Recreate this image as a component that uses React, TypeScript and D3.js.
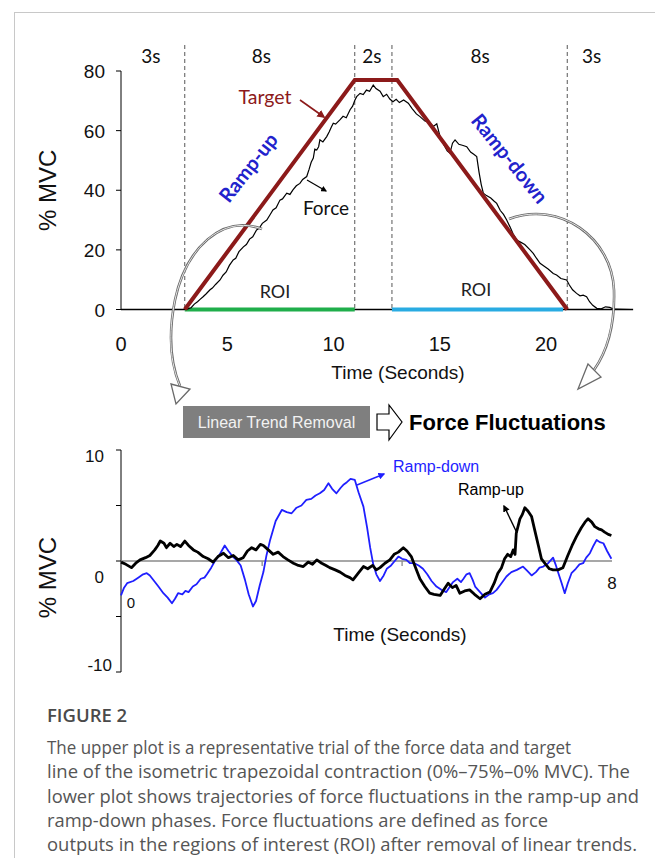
import React from "react";
import * as d3 from "d3";

// ---------- DATA ----------
const upperYTicks = [0, 20, 40, 60, 80];
const upperXTicks = [0, 5, 10, 15, 20];
const phaseBounds = [3, 11, 12.75, 21];
const phaseLabels = [
  { t: 1.4, label: "3s" },
  { t: 6.6, label: "8s" },
  { t: 11.8, label: "2s" },
  { t: 16.9, label: "8s" },
  { t: 22.15, label: "3s" },
];
const targetLine: [number, number][] = [
  [3, 0],
  [11, 77],
  [13, 77],
  [21, 0],
];
const roiUp: [number, number] = [3, 11];
const roiDown: [number, number] = [12.75, 20.8];
const forceTrace: [number, number][] = [
  [0, 0], [3.0, 0], [3.15, 0.2], [3.3, 0.6], [3.45, 1.8], [3.6, 2.6], [3.72, 3.4], [3.85, 4.2],
  [4.0, 5.2], [4.19, 6.6], [4.3, 7.2], [4.45, 8.4], [4.66, 9.9], [4.8, 11.5], [4.95, 12.6],
  [5.1, 14.8], [5.28, 16.6], [5.4, 17.2], [5.55, 19.4], [5.76, 21], [5.9, 21.8], [6.05, 23.6],
  [6.2, 24.4], [6.38, 26.7], [6.5, 27.2], [6.65, 28.9], [6.86, 30], [7.0, 31.6], [7.15, 33.4],
  [7.3, 34.1], [7.48, 36.7], [7.6, 37.1], [7.8, 39], [7.95, 38.6], [8.1, 40.2], [8.25, 41.5],
  [8.42, 42.3], [8.55, 43.6], [8.74, 44.6], [8.85, 47], [8.95, 49.4], [9.05, 50.8], [9.12, 53.8],
  [9.21, 53.5], [9.3, 54.6], [9.36, 56.9], [9.5, 56.2], [9.68, 58], [9.8, 59.6], [9.9, 61.2],
  [9.99, 62.5], [10.1, 62.2], [10.3, 63.6], [10.45, 64.8], [10.6, 64.3], [10.78, 67], [10.9, 68.2],
  [11.0, 70.1], [11.09, 71.4], [11.25, 72.5], [11.4, 72.1], [11.55, 73.6], [11.7, 73.2],
  [11.87, 75.3], [12.0, 74.1], [12.19, 73.2], [12.34, 71.4], [12.5, 72.2], [12.65, 70.6],
  [12.8, 69.7], [12.95, 70.5], [13.1, 69.4], [13.3, 70.3], [13.52, 69.2], [13.7, 67.4],
  [13.9, 65.6], [14.07, 64.7], [14.3, 63.2], [14.5, 62.8], [14.7, 61.4], [14.86, 62.3],
  [15.0, 58.4], [15.2, 55.2], [15.35, 53.2], [15.48, 52.4], [15.6, 55.8], [15.72, 56.9],
  [15.9, 55.4], [16.1, 55], [16.27, 54.6], [16.45, 52.8], [16.6, 52.1], [16.74, 51.3],
  [16.85, 46], [16.95, 42], [17.05, 39], [17.2, 38.2], [17.4, 37.4], [17.55, 36.4], [17.68, 35.6],
  [17.85, 33.2], [18.0, 31.9], [18.15, 30], [18.3, 27.8], [18.45, 25.4], [18.62, 23.3],
  [18.8, 22.6], [19.0, 21.8], [19.25, 20], [19.4, 18.8], [19.55, 17.2], [19.72, 15.5],
  [19.9, 14.6], [20.1, 13.6], [20.34, 12.1], [20.5, 11.6], [20.7, 10.4], [20.97, 9.9],
  [21.1, 8.2], [21.25, 6.6], [21.44, 5.4], [21.6, 4.6], [21.75, 4.8], [21.91, 4.3], [22.05, 2.6],
  [22.2, 1.4], [22.39, 0.4], [22.6, 0.2], [22.8, 0.9], [23.0, 0.7], [23.2, 0.1], [24, 0],
];

const lowerYTicks = [10, 5, 0, -5, -10];
const lowerYLabels = [10, 0, -10];
const lowerMinorX = [2.3, 4.58];
const rampUpFluct: [number, number][] = [
  [0, -0.1], [0.08, -0.3], [0.17, -0.6], [0.24, -0.2], [0.31, 0.1], [0.4, 0.3], [0.47, 0.5],
  [0.55, 1.0], [0.6, 1.4], [0.64, 1.8], [0.7, 1.6], [0.74, 1.2], [0.8, 1.6], [0.86, 1.3],
  [0.91, 1.5], [0.97, 1.3], [1.04, 1.8], [1.1, 1.4], [1.18, 1.0], [1.25, 0.8], [1.34, 0.4],
  [1.42, 0.2], [1.5, -0.1], [1.58, 0.4], [1.67, 0.7], [1.75, 0.3], [1.83, 0.5], [1.91, 0.1],
  [1.99, 0.3], [2.06, 0.9], [2.13, 1.2], [2.2, 1.0], [2.27, 1.5], [2.32, 1.4], [2.4, 1.0],
  [2.48, 0.6], [2.56, 0.8], [2.64, 0.4], [2.72, 0.1], [2.81, -0.2], [2.89, -0.4], [2.97, -0.5],
  [3.05, -0.1], [3.12, -0.3], [3.19, 0.1], [3.27, -0.2], [3.34, -0.4], [3.4, -0.6], [3.49, -0.8],
  [3.57, -1.0], [3.65, -1.3], [3.73, -1.5], [3.78, -1.7], [3.85, -1.2], [3.95, -0.5], [4.02, -0.7],
  [4.1, -0.4], [4.16, -0.8], [4.22, -0.6], [4.3, -0.2], [4.38, 0.1], [4.45, 0.6], [4.52, 0.8],
  [4.6, 1.2], [4.66, 0.9], [4.73, 0.4], [4.8, -0.6], [4.87, -1.6], [4.95, -2.3], [5.03, -2.9],
  [5.1, -3.0], [5.2, -3.1], [5.27, -2.5], [5.33, -2.0], [5.4, -2.4], [5.46, -2.2], [5.52, -2.9],
  [5.6, -2.7], [5.68, -2.6], [5.76, -3.0], [5.85, -3.4], [5.93, -3.0], [6.01, -2.8], [6.08, -2.0],
  [6.14, -1.1], [6.2, -0.6], [6.25, 0.2], [6.3, 0.6], [6.35, 0.4], [6.39, 1.0], [6.42, 0.6],
  [6.44, 2.5], [6.5, 3.8], [6.54, 4.2], [6.58, 4.8], [6.63, 4.5], [6.69, 4.0], [6.74, 2.8],
  [6.8, 1.4], [6.85, 0.2], [6.92, -0.3], [6.98, -0.7], [7.04, -0.8], [7.12, -0.8], [7.2, -0.6],
  [7.28, 0.5], [7.35, 1.4], [7.42, 2.2], [7.5, 3.0], [7.56, 3.5], [7.61, 3.8], [7.67, 3.5],
  [7.72, 3.1], [7.78, 2.9], [7.83, 2.8], [7.88, 2.6], [7.94, 2.4], [7.99, 2.3],
];
const rampDownFluct: [number, number][] = [
  [0, -3.1], [0.05, -2.4], [0.1, -2.0], [0.2, -1.8], [0.28, -1.5], [0.36, -1.2], [0.42, -1.1],
  [0.47, -1.3], [0.54, -1.8], [0.61, -2.3], [0.69, -2.9], [0.76, -3.3], [0.83, -3.8], [0.88, -3.4],
  [0.93, -2.9], [1.0, -3.0], [1.05, -2.7], [1.1, -2.8], [1.17, -2.3], [1.23, -2.1], [1.3, -1.6],
  [1.36, -1.5], [1.4, -1.2], [1.47, -0.6], [1.53, 0.0], [1.6, 0.5], [1.66, 1.1], [1.69, 1.4],
  [1.75, 0.9], [1.82, 0.4], [1.88, 0.1], [1.95, -0.4], [2.02, -1.7], [2.08, -3.0], [2.15, -4.1],
  [2.2, -3.6], [2.26, -2.2], [2.32, -1.0], [2.37, 0.5], [2.43, 1.9], [2.52, 3.6], [2.62, 4.6],
  [2.7, 4.4], [2.78, 4.3], [2.86, 4.8], [2.94, 5.0], [3.02, 5.5], [3.1, 5.6], [3.17, 5.9],
  [3.24, 6.1], [3.31, 6.4], [3.38, 7.0], [3.44, 6.5], [3.51, 6.1], [3.58, 6.6], [3.63, 6.9],
  [3.68, 7.1], [3.74, 7.4], [3.81, 7.3], [3.87, 6.2], [3.95, 4.9], [4.01, 3.0], [4.06, 1.2],
  [4.11, -0.3], [4.16, -1.2], [4.22, -1.8], [4.28, -1.3], [4.33, -0.7], [4.4, -0.4], [4.46, 0.0],
  [4.52, 0.4], [4.58, 0.2], [4.65, 0.1], [4.71, -0.2], [4.78, -0.2], [4.85, -0.4], [4.92, -0.7],
  [4.99, -1.2], [5.06, -1.8], [5.14, -2.3], [5.22, -2.6], [5.3, -2.8], [5.36, -2.3], [5.41, -1.9],
  [5.48, -1.6], [5.54, -1.9], [5.58, -1.6], [5.63, -1.2], [5.68, -1.1], [5.73, -1.7], [5.77, -2.3],
  [5.85, -2.8], [5.93, -3.3], [6.0, -3.0], [6.06, -2.9], [6.12, -2.6], [6.2, -2.0], [6.28, -1.4],
  [6.36, -1.0], [6.45, -0.8], [6.55, -0.5], [6.62, -0.9], [6.69, -1.3], [6.76, -1.0], [6.82, -0.6],
  [6.88, -0.5], [6.96, -0.2], [7.04, 0.3], [7.08, -0.3], [7.12, -1.0], [7.18, -2.0], [7.23, -2.9],
  [7.28, -2.0], [7.34, -1.1], [7.41, -0.7], [7.47, -0.3], [7.53, -0.2], [7.58, 0.3], [7.64, 0.7],
  [7.7, 1.4], [7.75, 1.9], [7.8, 1.7], [7.86, 1.6], [7.92, 0.9], [7.99, 0.2],
];

const captionTitle = "FIGURE 2";
const captionLines = [
  "The upper plot is a representative trial of the force data and target",
  "line of the isometric trapezoidal contraction (0%\u201375%\u20130% MVC). The",
  "lower plot shows trajectories of force fluctuations in the ramp-up and",
  "ramp-down phases. Force fluctuations are defined as force",
  "outputs in the regions of interest (ROI) after removal of linear trends.",
];
const captionWidths = [524, 583, 592, 501, 590];

// ---------- STYLE ----------
const ARIAL = "'Liberation Sans', Arial, sans-serif";
const CALIBRI = "Lato, 'Open Sans', sans-serif";
const CAPTION = "'Open Sans', Lato, sans-serif";
const MAROON = "#8c1a1a";
const RAMPBLUE = "#2222cc";
const LINEBLUE = "#1f1fff";

export default function App() {
  const xU = d3.scaleLinear().domain([0, 24]).range([121, 631]);
  const yU = d3.scaleLinear().domain([0, 80]).range([309.5, 71]);
  const xL = d3.scaleLinear().domain([0, 8]).range([121, 612]);
  const yL = d3.scaleLinear().domain([-10, 10]).range([672, 450]);

  const lineU = d3.line<[number, number]>().x((d) => xU(d[0])).y((d) => yU(d[1]));
  const lineL = d3.line<[number, number]>().x((d) => xL(d[0])).y((d) => yL(d[1]));

  const leftArc = "M 262 229 C 222 214, 186 248, 175 300 C 168 335, 170 362, 180 386";
  const rightArc = "M 509 219 C 560 200, 612 238, 614 290 C 615 322, 608 350, 594 370";

  return (
    <svg
      width={655}
      height={859}
      style={{ position: "absolute", left: 0, top: 0, background: "#fff" }}
      xmlns="http://www.w3.org/2000/svg"
    >
      <defs>
        <marker id="arrMaroon" viewBox="0 0 10 10" refX="8" refY="5" markerWidth="5" markerHeight="5" orient="auto">
          <path d="M0,0 L10,5 L0,10 z" fill={MAROON} />
        </marker>
        <marker id="arrBlack" viewBox="0 0 10 10" refX="8" refY="5" markerWidth="5" markerHeight="5" orient="auto">
          <path d="M0,0 L10,5 L0,10 z" fill="#000" />
        </marker>
        <marker id="arrBlue" viewBox="0 0 10 10" refX="8" refY="5" markerWidth="5" markerHeight="5" orient="auto">
          <path d="M0,0 L10,5 L0,10 z" fill={LINEBLUE} />
        </marker>
      </defs>

      {/* frame */}
      <line x1={14} y1={12.5} x2={655} y2={12.5} stroke="#c8c8c8" strokeWidth={1} />
      <line x1={14.5} y1={12} x2={14.5} y2={858} stroke="#c8c8c8" strokeWidth={1} />

      {/* ---------- UPPER PLOT ---------- */}
      {phaseBounds.map((t, i) => (
        <line key={i} x1={xU(t)} x2={xU(t)} y1={45} y2={310} stroke="#444" strokeWidth={0.9} strokeDasharray="4,3" />
      ))}
      {phaseLabels.map((p, i) => (
        <text key={i} x={xU(p.t)} y={63} fontFamily={CALIBRI} fontSize={19} textAnchor="middle" fill="#111">
          {p.label}
        </text>
      ))}

      {/* y axis */}
      <line x1={121} x2={121} y1={yU(80)} y2={yU(0)} stroke="#000" strokeWidth={1} />
      {upperYTicks.map((v) => (
        <g key={v}>
          <line x1={116} x2={121} y1={yU(v)} y2={yU(v)} stroke="#000" strokeWidth={1} />
          <text x={105} y={yU(v) + 7} fontFamily={ARIAL} fontSize={19} textAnchor="end" fill="#111">
            {v}
          </text>
        </g>
      ))}
      <text transform={`translate(56,${yU(40)}) rotate(-90)`} fontFamily={ARIAL} fontSize={24} textAnchor="middle" fill="#111">
        % MVC
      </text>

      {/* x axis */}
      <line x1={xU(0)} x2={xU(24.1)} y1={yU(0)} y2={yU(0)} stroke="#000" strokeWidth={1.6} />
      {upperXTicks.map((v) => (
        <text key={v} x={xU(v)} y={351} fontFamily={ARIAL} fontSize={20} textAnchor="middle" fill="#111">
          {v}
        </text>
      ))}
      <text x={398} y={379} fontFamily={ARIAL} fontSize={19} textAnchor="middle" fill="#111">
        Time (Seconds)
      </text>

      {/* ROI bars */}
      <line x1={xU(roiUp[0])} x2={xU(roiUp[1])} y1={yU(0)} y2={yU(0)} stroke="#1fae4b" strokeWidth={4} />
      <line x1={xU(roiDown[0])} x2={xU(roiDown[1])} y1={yU(0)} y2={yU(0)} stroke="#29abe2" strokeWidth={4} />
      <text x={275} y={298} fontFamily={CALIBRI} fontSize={18} textAnchor="middle" fill="#222">ROI</text>
      <text x={476} y={296} fontFamily={CALIBRI} fontSize={18} textAnchor="middle" fill="#222">ROI</text>

      {/* force */}
      <path d={lineU(forceTrace) || ""} fill="none" stroke="#000" strokeWidth={1.2} />
      {/* target */}
      <path d={lineU(targetLine) || ""} fill="none" stroke={MAROON} strokeWidth={4} strokeLinejoin="miter" />

      {/* labels upper */}
      <text x={265} y={104} fontFamily={CALIBRI} fontSize={19.5} textAnchor="middle" fill={MAROON}>Target</text>
      <line x1={300} y1={100} x2={324} y2={117} stroke={MAROON} strokeWidth={1.6} markerEnd="url(#arrMaroon)" />
      <text transform="translate(254,172) rotate(-52)" fontFamily={CALIBRI} fontWeight="bold" fontSize={20} textAnchor="middle" fill={RAMPBLUE}>
        Ramp-up
      </text>
      <text transform="translate(504,163) rotate(51)" fontFamily={CALIBRI} fontWeight="bold" fontSize={20} textAnchor="middle" fill={RAMPBLUE}>
        Ramp-down
      </text>
      <text x={326} y={215} fontFamily={CALIBRI} fontSize={19} textAnchor="middle" fill="#111">Force</text>
      <line x1={307} y1={180} x2={326} y2={191} stroke="#000" strokeWidth={1.2} markerEnd="url(#arrBlack)" />

      {/* curved arrows */}
      <path d={leftArc} fill="none" stroke="#6a6a6a" strokeWidth={2.6} />
      <path d={leftArc} fill="none" stroke="#e6e6e6" strokeWidth={1} />
      <path d="M 171 384 L 190 389 L 176 404 Z" fill="#fff" stroke="#6a6a6a" strokeWidth={1.3} />
      <path d={rightArc} fill="none" stroke="#6a6a6a" strokeWidth={2.6} />
      <path d={rightArc} fill="none" stroke="#e6e6e6" strokeWidth={1} />
      <path d="M 588 364 L 601 377 L 578 389 Z" fill="#fff" stroke="#6a6a6a" strokeWidth={1.3} />

      {/* trend removal box */}
      <rect x={183} y={406} width={187} height={32} fill="#7f7f7f" />
      <text x={276.5} y={428} fontFamily={ARIAL} fontSize={16} textAnchor="middle" fill="#f2f2f2">
        Linear Trend Removal
      </text>
      <path d="M 377 414 L 389 414 L 389 405 L 402 422 L 389 440 L 389 430 L 377 430 Z" fill="#fff" stroke="#000" strokeWidth={1.2} />
      <text x={409} y={430} fontFamily={ARIAL} fontSize={22} fontWeight="bold" fill="#000">
        Force Fluctuations
      </text>

      {/* ---------- LOWER PLOT ---------- */}
      <line x1={121} x2={121} y1={yL(10)} y2={yL(-10)} stroke="#000" strokeWidth={1} />
      {lowerYTicks.map((v) => (
        <line key={v} x1={116} x2={121} y1={yL(v)} y2={yL(v)} stroke="#000" strokeWidth={1} />
      ))}
      {lowerYLabels.map((v) => (
        <text
          key={v}
          x={v < 0 ? 112 : 104}
          y={yL(v) + (v > 0 ? 12 : v === 0 ? 22 : -1)}
          fontFamily={ARIAL}
          fontSize={17}
          textAnchor="end"
          fill="#111"
        >
          {v}
        </text>
      ))}
      <text transform={`translate(56,${yL(-1.5)}) rotate(-90)`} fontFamily={ARIAL} fontSize={24} textAnchor="middle" fill="#111">
        % MVC
      </text>
      <line x1={xL(0)} x2={xL(8)} y1={yL(0)} y2={yL(0)} stroke="#8a8a8a" strokeWidth={1.6} />
      {lowerMinorX.map((t) => (
        <line key={t} x1={xL(t)} x2={xL(t)} y1={yL(0)} y2={yL(0) + 5} stroke="#8a8a8a" strokeWidth={1.3} />
      ))}
      <text x={xL(0) + 10} y={608} fontFamily={ARIAL} fontSize={15} textAnchor="middle" fill="#111">0</text>
      <text x={xL(8)} y={589} fontFamily={ARIAL} fontSize={17} textAnchor="middle" fill="#111">8</text>
      <text x={400} y={641} fontFamily={ARIAL} fontSize={19} textAnchor="middle" fill="#111">
        Time (Seconds)
      </text>

      <path d={lineL(rampDownFluct) || ""} fill="none" stroke={LINEBLUE} strokeWidth={1.8} strokeLinejoin="round" />
      <path d={lineL(rampUpFluct) || ""} fill="none" stroke="#000" strokeWidth={2.8} strokeLinejoin="round" />

      <text x={393} y={472} fontFamily={ARIAL} fontSize={16} fill={LINEBLUE}>Ramp-down</text>
      <line x1={357} y1={485} x2={384} y2={474} stroke={LINEBLUE} strokeWidth={1.4} markerEnd="url(#arrBlue)" />
      <text x={458} y={495} fontFamily={ARIAL} fontSize={16} fill="#000">Ramp-up</text>
      <line x1={517} y1={533} x2={504} y2={506} stroke="#000" strokeWidth={1.4} markerEnd="url(#arrBlack)" />

      {/* ---------- CAPTION ---------- */}
      <text x={47} y={722} fontFamily={CAPTION} fontSize={18.5} fontWeight={600} fill="#4a4a4a">
        {captionTitle}
      </text>
      {captionLines.map((l, i) => (
        <text
          key={i}
          x={47}
          y={754 + i * 24.3}
          fontFamily={CAPTION}
          fontSize={17.5}
          fill="#555"
          textLength={captionWidths[i]}
          lengthAdjust="spacingAndGlyphs"
        >
          {l}
        </text>
      ))}
    </svg>
  );
}
